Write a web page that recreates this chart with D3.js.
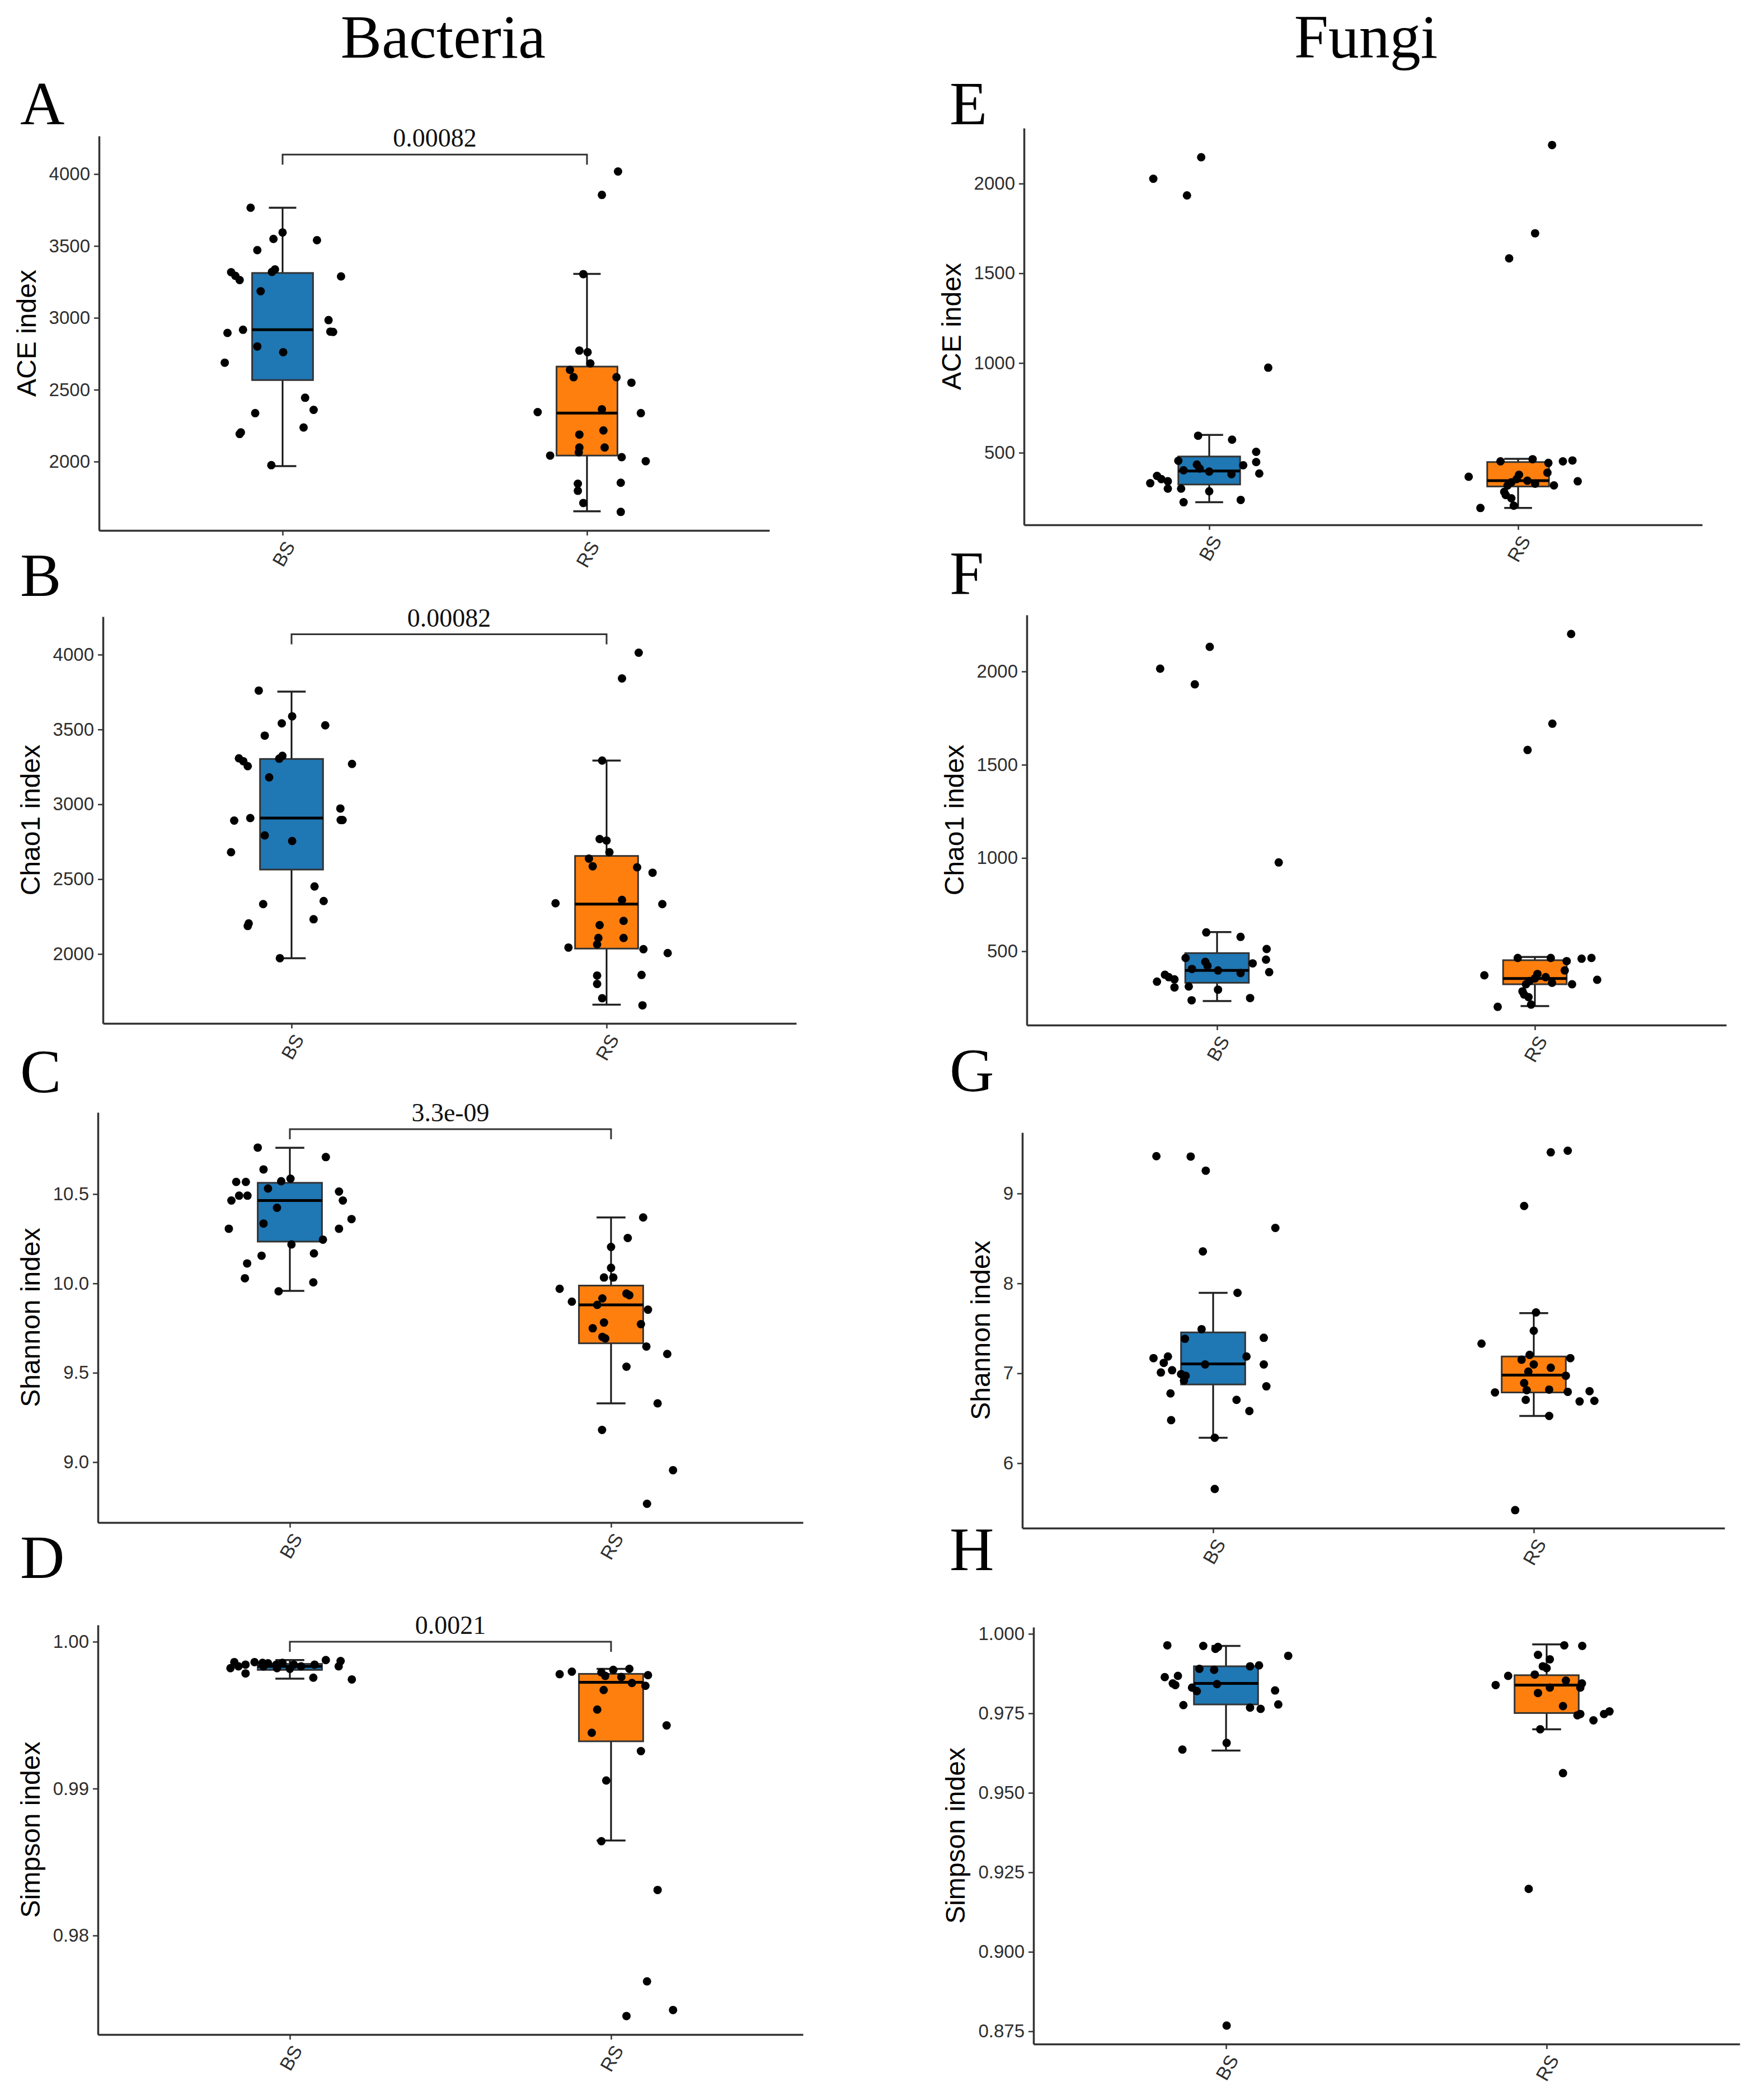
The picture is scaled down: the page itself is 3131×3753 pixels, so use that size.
<!DOCTYPE html>
<html><head><meta charset="utf-8">
<script src="https://cdn.jsdelivr.net/npm/d3@7"></script>
<style>html,body{margin:0;padding:0;background:#fff}</style>
</head><body>
<svg id="fig" width="3131" height="3753" xmlns="http://www.w3.org/2000/svg"></svg>
<script>
// ---------- DATA ----------
const groups = ["BS", "RS"];
const groupColors = ["#1f77b4", "#ff7f0e"];
const columnTitles = ["Bacteria", "Fungi"];
const panelLetters = ["A", "B", "C", "D", "E", "F", "G", "H"];
const axisTitles = ["ACE index", "Chao1 index", "Shannon index", "Simpson index",
                    "ACE index", "Chao1 index", "Shannon index", "Simpson index"];

// points: [value, jitter offset in category units]
const aceBacBS = [[3766,-0.105],[3594,0.0],[3549,-0.03],[3540,0.113],[3471,-0.083],[3317,-0.169],[3292,-0.155],[3263,-0.141],[3319,-0.035],[3337,-0.025],[3288,0.192],[3185,-0.072],[2984,0.151],[2895,-0.181],[2917,-0.130],[2904,0.157],[2902,0.166],[2801,-0.083],[2761,0.002],[2688,-0.19],[2444,0.074],[2360,0.102],[2337,-0.09],[2237,0.069],[2192,-0.141],[2203,-0.137],[1975,-0.037]];
const aceBacRS = [[4018,0.102],[3855,0.049],[3304,-0.012],[2772,-0.025],[2761,0.002],[2683,0.011],[2638,-0.056],[2587,-0.044],[2587,0.097],[2549,0.146],[2344,-0.162],[2364,0.049],[2337,0.177],[2188,-0.025],[2217,0.054],[2098,-0.025],[2065,-0.027],[2098,0.058],[2042,-0.121],[2031,0.114],[2003,0.193],[1853,0.111],[1846,-0.03],[1797,-0.03],[1712,-0.012],[1650,0.111]];
const chaoBacBS = [[3760,-0.104],[3588,0.002],[3541,-0.031],[3528,0.107],[3459,-0.085],[3307,-0.167],[3288,-0.153],[3255,-0.139],[3305,-0.039],[3324,-0.029],[3270,0.192],[3180,-0.071],[2972,0.155],[2891,-0.182],[2908,-0.131],[2895,0.156],[2895,0.162],[2792,-0.085],[2755,0.002],[2680,-0.192],[2451,0.073],[2354,0.102],[2333,-0.09],[2232,0.07],[2187,-0.139],[2204,-0.136],[1972,-0.037]];
const chaoBacRS = [[4013,0.102],[3841,0.049],[3292,-0.014],[2768,-0.022],[2758,0],[2680,0.009],[2637,-0.056],[2586,-0.044],[2579,0.097],[2543,0.146],[2339,-0.162],[2361,0.049],[2333,0.177],[2193,-0.022],[2221,0.054],[2107,-0.026],[2064,-0.03],[2107,0.054],[2043,-0.121],[2032,0.117],[2006,0.194],[1860,0.111],[1856,-0.03],[1800,-0.03],[1704,-0.014],[1657,0.114]];
const shanBacBS = [[10.760,-0.1],[10.707,0.112],[10.638,-0.082],[10.568,-0.167],[10.568,-0.137],[10.572,-0.027],[10.586,0.002],[10.531,-0.068],[10.464,-0.182],[10.491,-0.158],[10.491,-0.132],[10.514,0.153],[10.464,0.165],[10.423,-0.04],[10.360,0.192],[10.306,-0.19],[10.335,-0.082],[10.306,0.153],[10.245,0.103],[10.218,0.005],[10.155,-0.088],[10.168,0.075],[10.112,-0.133],[10.029,-0.14],[10.006,0.073],[9.956,-0.035]];
const shanBacRS = [[10.369,0.1],[10.254,0.052],[10.204,0],[10.087,0],[10.033,-0.022],[10.033,0.007],[9.970,-0.16],[9.943,0.048],[9.934,0.057],[9.898,-0.122],[9.916,-0.027],[9.880,-0.043],[9.853,0.115],[9.781,-0.022],[9.772,0.093],[9.749,-0.057],[9.701,-0.027],[9.692,-0.018],[9.647,0.11],[9.605,0.175],[9.534,0.048],[9.329,0.145],[9.180,-0.028],[8.955,0.193],[8.767,0.112]];
const simpBacBS = [[0.99820,-0.185],[0.99861,-0.173],[0.99844,-0.138],[0.99784,-0.138],[0.99861,-0.11],[0.99856,-0.085],[0.99832,-0.082],[0.99853,-0.068],[0.99844,-0.042],[0.99856,-0.023],[0.99815,0],[0.99844,0.012],[0.99832,0.035],[0.99755,0.073],[0.99844,0.077],[0.99875,0.112],[0.99832,0.152],[0.99868,0.158],[0.99743,0.193],[0.99832,-0.16],[0.99820,-0.04]];
const simpBacRS = [[0.99779,-0.16],[0.99796,-0.122],[0.99791,-0.03],[0.99767,-0.018],[0.99808,0.007],[0.99815,0.057],[0.99760,0.032],[0.99719,0.065],[0.99700,0.107],[0.99772,0.115],[0.99671,-0.023],[0.99538,-0.043],[0.99380,-0.06],[0.99430,0.173],[0.99255,0.093],[0.99055,-0.015],[0.98642,-0.03],[0.98310,0.145],[0.97688,0.112],[0.97452,0.048],[0.97493,0.193]];
const aceFunBS = [[2147,-0.026],[2027,-0.181],[1934,-0.072],[974,0.191],[595,-0.036],[573,0.074],[505,0.152],[448,0.152],[455,-0.1],[430,0.11],[434,-0.04],[412,-0.031],[384,0.162],[402,-0.083],[395,0],[380,0.072],[371,-0.169],[353,-0.155],[330,-0.191],[341,-0.134],[300,-0.134],[300,-0.091],[285,0],[224,-0.083],[237,0.102]];
const aceFunRS = [[2215,0.11],[1723,0.055],[1583,-0.029],[452,-0.057],[464,0.047],[452,0.145],[457,0.176],[443,0.098],[366,-0.16],[389,0.095],[377,0.003],[353,-0.005],[335,-0.022],[318,-0.034],[341,0.193],[327,0.055],[318,0.116],[282,-0.045],[264,-0.04],[246,-0.022],[205,-0.014],[192,-0.122],[344,0.03]];
const chaoFunBS = [[2132,-0.023],[2015,-0.179],[1931,-0.07],[976,0.194],[601,-0.034],[577,0.074],[512,0.156],[455,0.154],[464,-0.099],[435,0.112],[443,-0.037],[422,-0.03],[388,0.164],[405,-0.079],[397,0.003],[383,0.074],[374,-0.164],[361,-0.152],[337,-0.189],[349,-0.134],[306,-0.134],[311,-0.089],[294,0.003],[237,-0.08],[249,0.104]];
const chaoFunRS = [[2201,0.114],[1720,0.055],[1579,-0.023],[464,-0.054],[464,0.05],[460,0.147],[464,0.178],[447,0.1],[371,-0.159],[397,0.094],[378,0.008],[354,0],[340,-0.017],[323,-0.028],[347,0.196],[331,0.054],[323,0.117],[285,-0.039],[268,-0.034],[254,-0.02],[214,-0.012],[202,-0.117],[361,0.034]];
const shanFunBS = [[9.415,-0.177],[9.411,-0.07],[9.254,-0.023],[8.617,0.194],[8.356,-0.032],[7.895,0.076],[7.491,-0.036],[7.384,-0.088],[7.395,0.158],[7.169,-0.186],[7.187,-0.141],[7.187,0.104],[7.116,-0.154],[7.098,-0.025],[7.098,0.158],[7.034,-0.128],[7.009,-0.163],[6.991,-0.1],[6.973,-0.086],[6.919,-0.091],[6.855,0.166],[6.776,-0.133],[6.705,0.073],[6.580,0.113],[6.479,-0.131],[6.283,0.005],[5.714,0.005]];
const shanFunRS = [[9.476,0.106],[9.458,0.053],[8.861,-0.03],[7.677,0.007],[7.473,0],[7.330,-0.163],[7.205,-0.013],[7.152,-0.038],[7.169,0.114],[7.098,0],[7.062,0.053],[7.019,-0.017],[6.973,0.1],[6.891,-0.03],[6.787,-0.121],[6.812,-0.022],[6.819,0.048],[6.794,0.106],[6.801,0.174],[6.705,-0.025],[6.687,0.143],[6.694,0.189],[6.526,0.048],[5.478,-0.058]];
const simpFunBS = [[0.9964,-0.183],[0.9962,-0.071],[0.9953,-0.033],[0.9959,-0.025],[0.9931,0.194],[0.9898,0.075],[0.9901,0.103],[0.9890,-0.083],[0.9887,-0.037],[0.9864,-0.191],[0.9868,-0.15],[0.9844,-0.166],[0.9839,-0.158],[0.9842,-0.028],[0.9831,-0.106],[0.9820,-0.091],[0.9822,0.153],[0.9776,-0.133],[0.9768,0.075],[0.9764,0.108],[0.9778,0.163],[0.9657,0.002],[0.9636,-0.136],[0.8768,0.002]];
const simpFunRS = [[0.9964,0.055],[0.9962,0.111],[0.9934,-0.027],[0.9920,0.01],[0.9898,-0.012],[0.9892,0],[0.9868,-0.12],[0.9872,-0.037],[0.9839,-0.159],[0.9853,0.06],[0.9844,0.11],[0.9831,0.01],[0.9814,-0.027],[0.9831,0.105],[0.9773,0.051],[0.9748,0.105],[0.9744,0.096],[0.9728,0.146],[0.9748,0.179],[0.9756,0.196],[0.9700,-0.02],[0.9562,0.051],[0.9198,-0.056]];

// box stats per group: [lower whisker, Q1, median, Q3, upper whisker]
const aceBacBox  = [[1969,2567,2917,3312,3766],[1654,2042,2337,2661,3306]];
const chaoBacBox = [[1972,2564,2908,3303,3753],[1661,2036,2333,2655,3292]];
const shanBacBox = [[9.958,10.234,10.464,10.563,10.759],[9.329,9.665,9.880,9.988,10.369]];
const simpBacBox = [[0.99748,0.99808,0.99832,0.99849,0.99875],[0.98647,0.99322,0.99724,0.99781,0.99815]];
const aceFunBox  = [[224,323,398,479,599],[192,312,344,448,466]];
const chaoFunBox = [[233,331,397,490,603],[206,323,354,452,469]];
const shanFunBox = [[6.283,6.876,7.105,7.455,7.895],[6.526,6.787,6.980,7.187,7.670]];
const simpFunBox = [[0.9633,0.9778,0.9844,0.9898,0.9962],[0.9700,0.9751,0.9839,0.9870,0.9967]];

// tick values
const aceBacTicks  = [2000,2500,3000,3500,4000];
const chaoBacTicks = [2000,2500,3000,3500,4000];
const shanBacTicks = [9.0,9.5,10.0,10.5];
const simpBacTicks = [0.98,0.99,1.00];
const aceFunTicks  = [500,1000,1500,2000];
const chaoFunTicks = [500,1000,1500,2000];
const shanFunTicks = [6,7,8,9];
const simpFunTicks = [0.875,0.900,0.925,0.950,0.975,1.000];

// significance brackets (bacteria panels): bracket level and p-value label
const sigLevels = [4136, 4136, 10.863, 1.0000];
const sigLabels = ["0.00082", "0.00082", "3.3e-09", "0.0021"];

// ---------- LAYOUT ----------
const layouts = [
  {l:177, r:1375, t:243, b:948,  x0:505,  x1:1049, dom:[1521,4265],   lx:36,   ly:222},
  {l:184, r:1423, t:1102,b:1829, x0:521,  x1:1084, dom:[1536,4254],   lx:36,   ly:1065},
  {l:175, r:1435, t:1988,b:2721, x0:518,  x1:1092, dom:[8.662,10.957],lx:36,   ly:1952},
  {l:175, r:1435, t:2904,b:3636, x0:518,  x1:1092, dom:[0.97326,1.00114], lx:36, ly:2820},
  {l:1830,r:3042, t:229, b:938,  x0:2161, x1:2713, dom:[98,2309],     lx:1697, ly:222},
  {l:1835,r:3085, t:1099,b:1832, x0:2175, x1:2743, dom:[104,2303],    lx:1697, ly:1062},
  {l:1827,r:3082, t:2024,b:2731, x0:2168, x1:2741, dom:[5.278,9.678], lx:1697, ly:1950},
  {l:1847,r:3109, t:2908,b:3653, x0:2191, x1:2764, dom:[0.871,1.0021],lx:1697, ly:2806}
];
const pointSets = [[aceBacBS,aceBacRS],[chaoBacBS,chaoBacRS],[shanBacBS,shanBacRS],[simpBacBS,simpBacRS],
                   [aceFunBS,aceFunRS],[chaoFunBS,chaoFunRS],[shanFunBS,shanFunRS],[simpFunBS,simpFunRS]];
const boxSets = [aceBacBox,chaoBacBox,shanBacBox,simpBacBox,aceFunBox,chaoFunBox,shanFunBox,simpFunBox];
const tickSets = [aceBacTicks,chaoBacTicks,shanBacTicks,simpBacTicks,aceFunTicks,chaoFunTicks,shanFunTicks,simpFunTicks];
const tickFormats = ["d","d",".1f",".2f","d","d","d",".3f"];

const SANS = "'Liberation Sans', Arial, sans-serif";
const SERIF = "'Liberation Serif', 'Times New Roman', serif";
const AXIS_COL = "#333333";
const TEXT_COL = "#2e2e2e";

const svg = d3.select("#fig");
svg.append("rect").attr("width",3131).attr("height",3753).attr("fill","#fff");

// column titles
const titleX = [792, 2441];
columnTitles.forEach((t,i) => {
  svg.append("text").attr("x", titleX[i]).attr("y", 103)
    .attr("text-anchor","middle").attr("font-family", SERIF)
    .attr("font-size", 110).attr("fill","#000").text(t);
});

layouts.forEach((L, p) => {
  const g = svg.append("g");
  const y = d3.scaleLinear().domain(L.dom).range([L.b, L.t]);
  const x = d3.scaleLinear().domain([0,1]).range([L.x0, L.x1]);

  // panel letter
  svg.append("text").attr("x", L.lx).attr("y", L.ly)
    .attr("font-family", SERIF).attr("font-size", 110).attr("fill","#000")
    .text(panelLetters[p]);

  // y axis
  const fmt = d3.format(tickFormats[p]);
  const yAx = g.append("g").attr("transform", `translate(${L.l},0)`)
    .call(d3.axisLeft(y).tickValues(tickSets[p]).tickFormat(fmt).tickSize(9).tickSizeOuter(0).tickPadding(7));
  yAx.select(".domain").attr("stroke", AXIS_COL).attr("stroke-width", 3.5);
  yAx.selectAll(".tick line").attr("stroke", AXIS_COL).attr("stroke-width", 2.5);
  yAx.selectAll(".tick text").attr("font-family", SANS).attr("font-size", 33).attr("fill", TEXT_COL);

  // x axis
  const xs = d3.scaleLinear().domain([x.invert(L.l), x.invert(L.r)]).range([L.l, L.r]);
  const xAx = g.append("g").attr("transform", `translate(0,${L.b})`)
    .call(d3.axisBottom(xs).tickValues([0,1]).tickFormat(i => groups[i]).tickSize(9).tickSizeOuter(0));
  xAx.select(".domain").attr("stroke", AXIS_COL).attr("stroke-width", 3.5);
  xAx.selectAll(".tick line").attr("stroke", AXIS_COL).attr("stroke-width", 2.5);
  xAx.selectAll(".tick text")
    .attr("font-family", SANS).attr("font-size", 34).attr("fill", TEXT_COL)
    .attr("text-anchor","end").attr("y", 0).attr("dy", "0.71em")
    .attr("transform", "translate(2,16) rotate(-60)");

  // y axis title: place left of tick labels
  let minX = Infinity;
  yAx.selectAll(".tick text").each(function(){ const bb=this.getBBox(); minX=Math.min(minX, L.l + bb.x); });
  const ty = (L.t + L.b) / 2;
  svg.append("text")
    .attr("transform", `translate(${minX - 24},${ty}) rotate(-90)`)
    .attr("text-anchor","middle").attr("font-family", SANS)
    .attr("font-size", 48).attr("fill","#000").text(axisTitles[p]);

  // boxplots
  const boxHalf = 0.1, capHalf = 0.045;
  boxSets[p].forEach((s, i) => {
    const [lo, q1, med, q3, hi] = s;
    const bg = g.append("g");
    bg.append("line").attr("x1", x(i)).attr("x2", x(i)).attr("y1", y(hi)).attr("y2", y(q3))
      .attr("stroke", "#111").attr("stroke-width", 3);
    bg.append("line").attr("x1", x(i)).attr("x2", x(i)).attr("y1", y(q1)).attr("y2", y(lo))
      .attr("stroke", "#111").attr("stroke-width", 3);
    [hi, lo].forEach(v => bg.append("line")
      .attr("x1", x(i - capHalf)).attr("x2", x(i + capHalf)).attr("y1", y(v)).attr("y2", y(v))
      .attr("stroke", "#222").attr("stroke-width", 3.5));
    bg.append("rect").attr("x", x(i - boxHalf)).attr("width", x(i + boxHalf) - x(i - boxHalf))
      .attr("y", y(q3)).attr("height", y(q1) - y(q3))
      .attr("fill", groupColors[i]).attr("stroke", "#333").attr("stroke-width", 3);
    bg.append("line").attr("x1", x(i - boxHalf)).attr("x2", x(i + boxHalf)).attr("y1", y(med)).attr("y2", y(med))
      .attr("stroke", "#000").attr("stroke-width", 5);
  });

  // jittered points
  pointSets[p].forEach((pts, i) => {
    g.append("g").selectAll("circle").data(pts).join("circle")
      .attr("cx", d => x(i + d[1])).attr("cy", d => y(d[0])).attr("r", 7.5).attr("fill", "#000");
  });

  // significance bracket
  if (p < 4) {
    const yb = y(sigLevels[p]);
    g.append("path")
      .attr("d", `M${x(0)},${yb + 18}V${yb}H${x(1)}V${yb + 18}`)
      .attr("fill","none").attr("stroke", "#333").attr("stroke-width", 3);
    g.append("text").attr("x", (x(0) + x(1)) / 2).attr("y", yb - 14)
      .attr("text-anchor","middle").attr("font-family", SERIF).attr("font-size", 46)
      .attr("fill","#111").text(sigLabels[p]);
  }
});
</script>
</body></html>
